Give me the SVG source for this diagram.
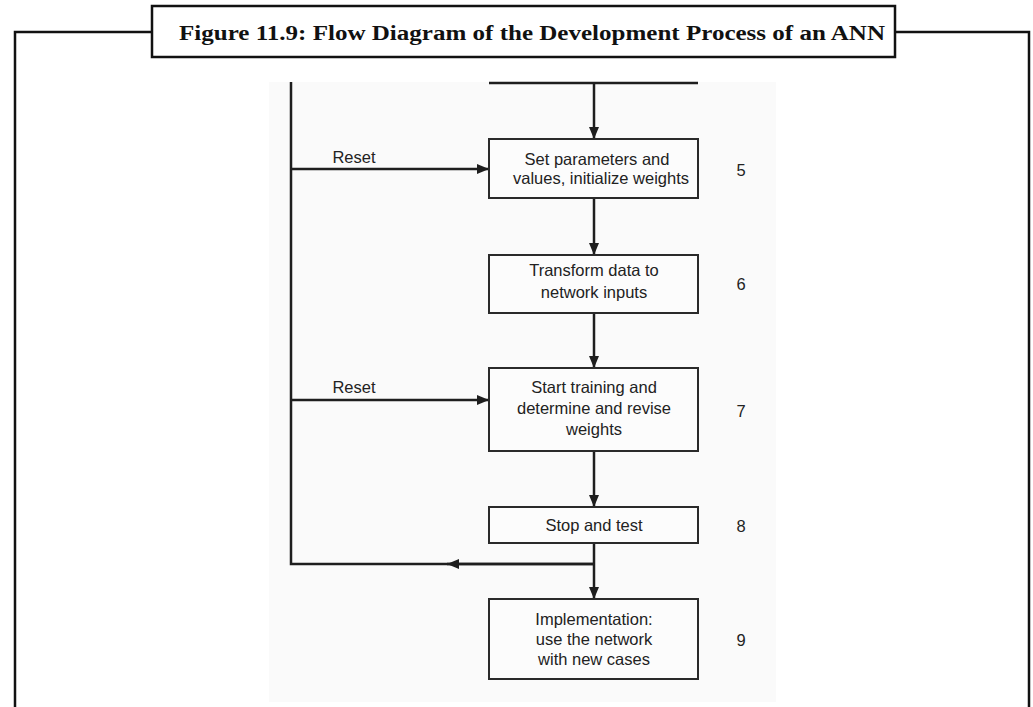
<svg xmlns="http://www.w3.org/2000/svg" width="1033" height="707" viewBox="0 0 1033 707">
<style>
.frame{fill:none;stroke:#111;stroke-width:2.5}
.box{fill:#fcfcfc;stroke:#2a2a2a;stroke-width:2}
.ln{fill:none;stroke:#1e1e1e;stroke-width:2.5}
.t{font-family:"Liberation Sans",Arial,sans-serif;font-size:16.5px;fill:#222;text-anchor:middle}
.n{font-family:"Liberation Sans",Arial,sans-serif;font-size:16.5px;fill:#222;text-anchor:middle}
.title{font-family:"Liberation Serif","Times New Roman",serif;font-weight:bold;font-size:20px;fill:#111}
</style>
<defs>
<marker id="ah" viewBox="0 0 12 10" refX="12" refY="5" markerWidth="12" markerHeight="10" markerUnits="userSpaceOnUse" orient="auto">
<path d="M0,0 L12,5 L0,10 Z" fill="#1e1e1e"/>
</marker>
</defs>
<rect width="1033" height="707" fill="#ffffff"/>
<g id="frame">
<path class="frame" d="M15,707 V32 H152 M895,32 H1029 V707"/>
<rect x="152" y="6" width="743" height="51" fill="#fff" stroke="#111" stroke-width="2.5"/>
<text class="title" x="179" y="40" textLength="706" lengthAdjust="spacingAndGlyphs">Figure 11.9: Flow Diagram of the Development Process of an ANN</text>
</g>
<rect x="269" y="82" width="507" height="620" fill="#fafafa"/>
<g id="connectors">
<path class="ln" d="M489,83 H698" stroke-width="1.5"/>
<path class="ln" d="M594,83 V139" marker-end="url(#ah)"/>
<path class="ln" d="M594,198 V255" marker-end="url(#ah)"/>
<path class="ln" d="M594,313 V368" marker-end="url(#ah)"/>
<path class="ln" d="M594,451 V507" marker-end="url(#ah)"/>
<path class="ln" d="M594,543 V599" marker-end="url(#ah)"/>
<path class="ln" d="M594,564 H291 V82"/>
<path class="ln" d="M594,564 H447" marker-end="url(#ah)"/>
<path class="ln" d="M291,169 H489" marker-end="url(#ah)"/>
<path class="ln" d="M291,400 H489" marker-end="url(#ah)"/>
<text class="t" x="354" y="163">Reset</text>
<text class="t" x="354" y="393">Reset</text>
</g>
<g id="node5">
<rect class="box" x="489" y="139" width="209" height="59"/>
<text class="t" x="597" y="165">Set parameters and</text>
<text class="t" x="601" y="184">values, initialize weights</text>
<text class="n" x="741" y="176">5</text>
</g>
<g id="node6">
<rect class="box" x="489" y="255" width="209" height="58"/>
<text class="t" x="594" y="276">Transform data to</text>
<text class="t" x="594" y="298">network inputs</text>
<text class="n" x="741" y="290">6</text>
</g>
<g id="node7">
<rect class="box" x="489" y="368" width="209" height="83"/>
<text class="t" x="594" y="393">Start training and</text>
<text class="t" x="594" y="414">determine and revise</text>
<text class="t" x="594" y="435">weights</text>
<text class="n" x="741" y="417">7</text>
</g>
<g id="node8">
<rect class="box" x="489" y="507" width="209" height="36"/>
<text class="t" x="594" y="531">Stop and test</text>
<text class="n" x="741" y="532">8</text>
</g>
<g id="node9">
<rect class="box" x="489" y="599" width="209" height="80"/>
<text class="t" x="594" y="625">Implementation:</text>
<text class="t" x="594" y="645">use the network</text>
<text class="t" x="594" y="665">with new cases</text>
<text class="n" x="741" y="646">9</text>
</g>
</svg>
